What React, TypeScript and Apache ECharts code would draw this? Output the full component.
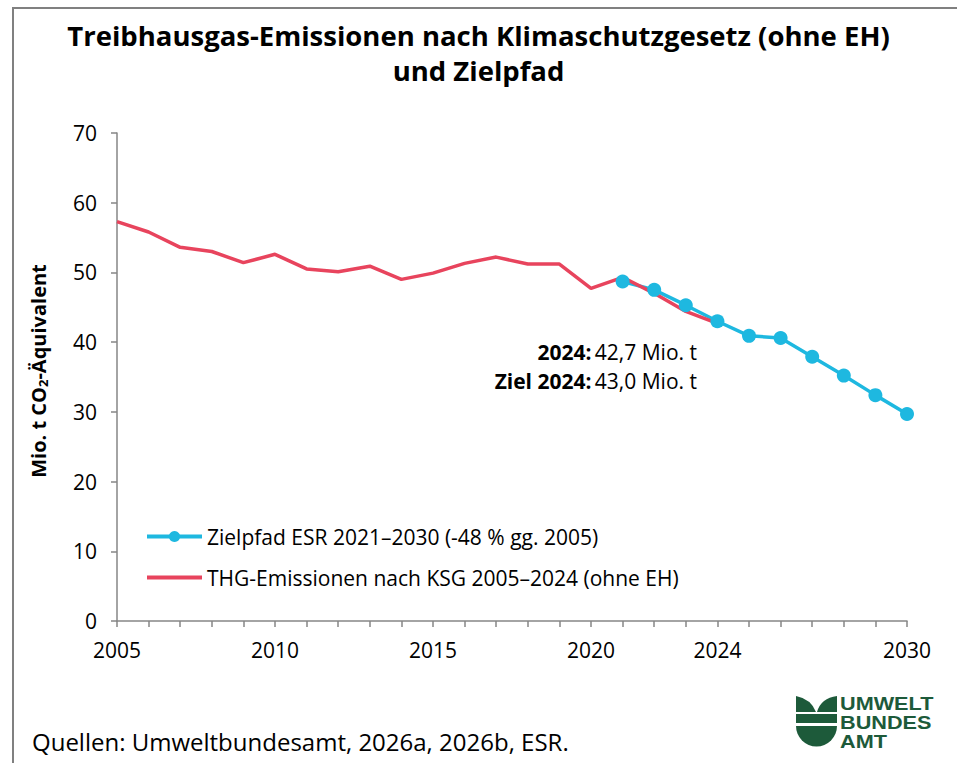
import React, { useEffect, useRef } from "react";
import * as echarts from "echarts";

const years = Array.from({ length: 26 }, (_, i) => String(2005 + i));
const shownYears = ["2005", "2010", "2015", "2020", "2024", "2030"];

// THG-Emissionen nach KSG 2005–2024 (ohne EH), Mio. t CO2-Äq.
const emissions = [
  57.3, 55.8, 53.6, 53.0, 51.4, 52.6, 50.5, 50.1, 50.9, 49.0,
  49.9, 51.3, 52.2, 51.2, 51.2, 47.7, 49.3, 47.0, 44.4, 42.7,
];
// Zielpfad ESR 2021–2030
const targetYears = ["2021", "2022", "2023", "2024", "2025", "2026", "2027", "2028", "2029", "2030"];
const targetPath = [48.7, 47.5, 45.3, 43.0, 40.9, 40.6, 37.9, 35.2, 32.4, 29.7];

const yTicks = { min: 0, max: 70, interval: 10 };

const BLUE_NAME = "Zielpfad ESR 2021–2030 (-48 % gg. 2005)";
const RED_NAME = "THG-Emissionen nach KSG 2005–2024 (ohne EH)";

const RED = "#e8445d";
const BLUE = "#1eb8e0";
const GREEN = "#1d5a3a";
const FONT = "Open Sans";

const App: React.FC = () => {
  const ref = useRef<HTMLDivElement>(null);

  useEffect(() => {
    if (!ref.current) return;
    echarts.graphic.registerShape(
      "ubaLeafL",
      echarts.graphic.extendPath("M0,0 L0,16 L20,16 Q15,3 0,0 Z", {})
    );
    echarts.graphic.registerShape(
      "ubaLeafR",
      echarts.graphic.extendPath("M41,0 L41,16 L21,16 Q25,2 41,0 Z", {})
    );
    const chart = echarts.init(ref.current, null, { renderer: "svg" });

    const redData = years.map((y, i) => (i < emissions.length ? emissions[i] : null));
    const blueData = years.map((y) => {
      const k = targetYears.indexOf(y);
      return k >= 0 ? targetPath[k] : null;
    });

    const logoLine = (text: string, y: number) => ({
      type: "text",
      x: 44,
      y,
      scaleX: 1.14,
      style: {
        text,
        fontFamily: "Liberation Sans",
        fontWeight: "bold",
        fontSize: 19,
        lineHeight: 19,
        fill: GREEN,
        verticalAlign: "top",
      },
    });

    chart.setOption({
      animation: false,
      textStyle: { fontFamily: FONT },
      title: {
        text: "Treibhausgas-Emissionen nach Klimaschutzgesetz (ohne EH)\nund Zielpfad",
        left: "center",
        top: 18,
        padding: 0,
        textStyle: {
          fontFamily: FONT,
          fontSize: 27.5,
          fontWeight: "bold",
          color: "#000",
          lineHeight: 35,
        },
      },
      grid: { left: 117, right: 50, top: 133, bottom: 142 },
      legend: {
        left: 145,
        top: 526,
        padding: 0,
        orient: "vertical",
        itemWidth: 55,
        itemHeight: 14,
        itemGap: 20,
        textStyle: { fontFamily: FONT, fontSize: 21, color: "#000" },
        data: [
          { name: BLUE_NAME, lineStyle: { width: 4 } },
          { name: RED_NAME, lineStyle: { width: 4 }, itemStyle: { opacity: 0 } },
        ],
      },
      xAxis: {
        type: "category",
        data: years,
        boundaryGap: false,
        axisLine: { lineStyle: { color: "#868686", width: 1.5 } },
        axisTick: { show: true, interval: 0, length: 6, lineStyle: { color: "#868686", width: 1.5 } },
        axisLabel: {
          interval: (idx: number, val: string) => shownYears.includes(val),
          fontFamily: FONT,
          fontSize: 21,
          color: "#000",
          margin: 18,
        },
        splitLine: { show: false },
      },
      yAxis: {
        type: "value",
        min: yTicks.min,
        max: yTicks.max,
        interval: yTicks.interval,
        name: "{b|Mio. t CO}{s|2}{b|-Äquivalent}",
        nameLocation: "middle",
        nameRotate: 90,
        nameGap: 68,
        nameTextStyle: {
          padding: [0, 0, 0, 12],
          rich: {
            b: { fontFamily: FONT, fontSize: 20, fontWeight: "bold", color: "#000" },
            s: { fontFamily: FONT, fontSize: 13, fontWeight: "bold", color: "#000", verticalAlign: "bottom", padding: [9, 0, 0, 0] },
          },
        },
        axisLine: { show: true, lineStyle: { color: "#868686", width: 1.5 } },
        axisTick: { show: true, length: 6, lineStyle: { color: "#868686", width: 1.5 } },
        axisLabel: { fontFamily: FONT, fontSize: 21, color: "#000", margin: 20 },
        splitLine: { show: false },
      },
      series: [
        {
          name: BLUE_NAME,
          type: "line",
          data: blueData,
          symbol: "circle",
          symbolSize: 14,
          showSymbol: true,
          itemStyle: { color: BLUE },
          lineStyle: { color: BLUE, width: 3.5 },
          connectNulls: false,
        },
        {
          name: RED_NAME,
          type: "line",
          data: redData,
          symbol: "none",
          showSymbol: false,
          itemStyle: { color: RED },
          lineStyle: { color: RED, width: 3.5 },
          connectNulls: false,
        },
      ],
      graphic: [
        {
          type: "rect",
          silent: true,
          shape: { x: 13, y: 8, width: 1000, height: 800 },
          style: { fill: "none", stroke: "#808080", lineWidth: 2 },
        },
        {
          type: "text",
          x: 697,
          y: 352,
          style: {
            text: "{b|2024:} {r|42,7 Mio. t}",
            align: "right",
            verticalAlign: "middle",
            rich: {
              b: { fontFamily: FONT, fontSize: 21, fontWeight: "bold", fill: "#000" },
              r: { fontFamily: FONT, fontSize: 21, fill: "#000" },
            },
          },
        },
        {
          type: "text",
          x: 697,
          y: 381,
          style: {
            text: "{b|Ziel 2024:} {r|43,0 Mio. t}",
            align: "right",
            verticalAlign: "middle",
            rich: {
              b: { fontFamily: FONT, fontSize: 21, fontWeight: "bold", fill: "#000" },
              r: { fontFamily: FONT, fontSize: 21, fill: "#000" },
            },
          },
        },
        {
          type: "text",
          x: 32,
          y: 741,
          style: {
            text: "Quellen: Umweltbundesamt, 2026a, 2026b, ESR.",
            fontFamily: FONT,
            fontSize: 24,
            fill: "#000",
            verticalAlign: "middle",
          },
        },
        {
          type: "group",
          x: 796,
          y: 696,
          children: [
            { type: "ubaLeafL", style: { fill: GREEN } },
            { type: "ubaLeafR", style: { fill: GREEN } },
            { type: "rect", shape: { x: 0, y: 18, width: 41, height: 9 }, style: { fill: GREEN } },
            {
              type: "sector",
              shape: { cx: 20.5, cy: 30, r0: 0, r: 20.5, startAngle: 0, endAngle: Math.PI, clockwise: true },
              style: { fill: GREEN },
            },
            logoLine("UMWELT", -2),
            logoLine("BUNDES", 17),
            logoLine("AMT", 36),
          ],
        },
      ],
    });

    return () => chart.dispose();
  }, []);

  return (
    <div
      ref={ref}
      style={{ position: "absolute", left: 0, top: 0, width: 957, height: 763, background: "#fff" }}
    />
  );
};

export default App;
